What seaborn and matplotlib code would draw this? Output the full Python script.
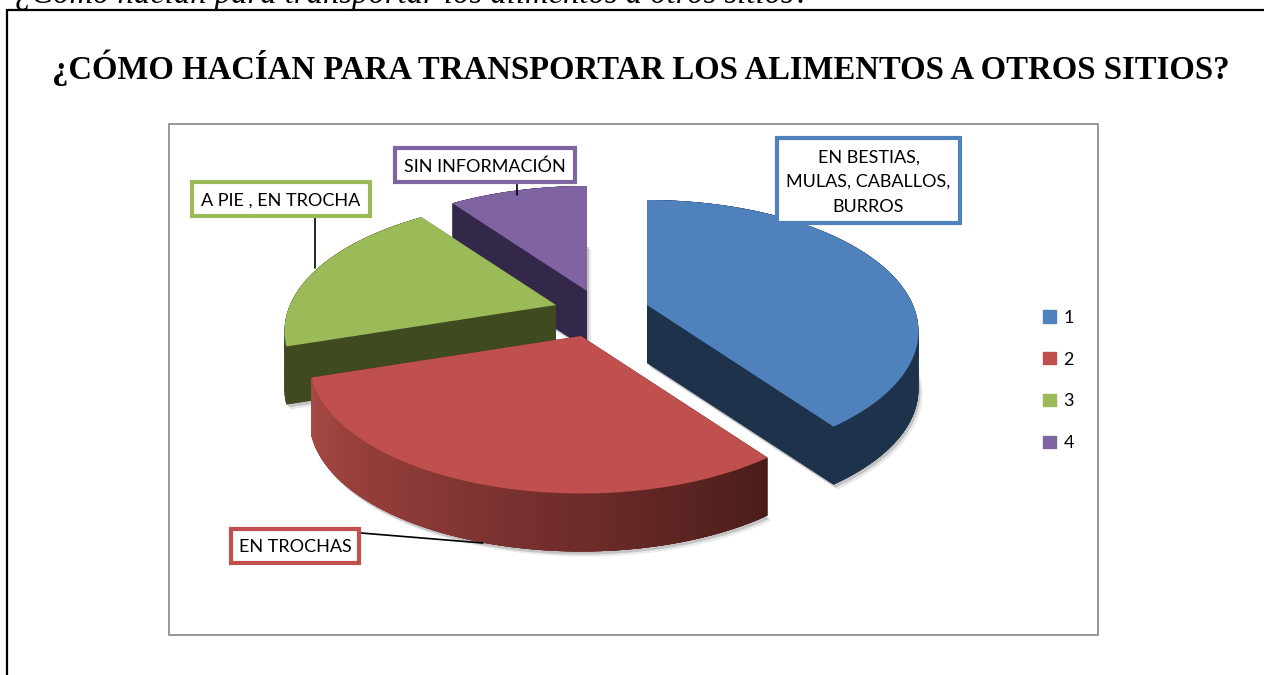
import matplotlib

matplotlib.use("Agg")

import matplotlib.pyplot as plt
import numpy as np
import seaborn as sns
from matplotlib.patches import Patch, Rectangle

TITLE = "¿CÓMO HACÍAN PARA TRANSPORTAR LOS ALIMENTOS A OTROS SITIOS?"
CAPTION = "¿Cómo hacían para transportar los alimentos a otros sitios?"

legend_labels = ["1", "2", "3", "4"]
shares = [40, 30, 20, 10]
slice_labels = ["EN BESTIAS,\nMULAS, CABALLOS,\nBURROS", "EN TROCHAS", "A PIE , EN TROCHA", "SIN INFORMACIÓN"]

top_colors = ["#4F81BD", "#C0504D", "#9BBB59", "#8064A2"]
wall_colors = ["#1E324C", "#4A1C19", "#3F4A21", "#33284A"]

# apex of each exploded slice, in pixels
apex = [(647, 305), (581, 336), (556, 305), (587, 291)]
label_boxes = [(775, 136, 962, 225), (229, 527, 361, 565), (190, 180, 372, 218), (393, 146, 577, 184)]
leaders = [None, ((361, 533), (483, 543)), ((315, 218), (315, 268)), ((517, 184), (517, 195))]

RX, RY, PERSP, DEPTH = 266, 126, 0.2, 58


def rim(theta, center):
    # tilted circle with a bit of perspective, theta clockwise from 12 o'clock
    x, y = np.sin(theta), np.cos(theta)
    s = 1 / (1 + PERSP * y)
    return center[0] + RX * x * s, center[1] - RY * y * s


def draw_slice(ax, start, end, center, top, wall, gradient=None):
    theta = np.linspace(start, end, 120)
    x, y = rim(theta, center)
    px = np.r_[center[0], x]
    py = np.r_[center[1], y]

    # soft shadow under the wall
    for off, alpha in ((5, 0.12), (3, 0.25)):
        ax.fill(px + off - 1, py + DEPTH + off, color="#555555", alpha=alpha, lw=0, zorder=2)

    ax.fill(px, py + DEPTH, color=wall, lw=0, zorder=3)
    # cut faces on both edges of the slice
    for k in (0, -1):
        ax.fill(
            [center[0], x[k], x[k], center[0]],
            [center[1], y[k], y[k] + DEPTH, center[1] + DEPTH],
            color=wall, lw=0, zorder=3,
        )
    # outer wall, in overlapping strips so the gradient has no seams
    colors = gradient if gradient is not None else [wall] * (len(theta) - 1)
    for i in range(len(theta) - 1):
        j = min(i + 3, len(theta) - 1)
        ax.fill(
            [x[i], x[j], x[j], x[i]],
            [y[i], y[j], y[j] + DEPTH, y[i] + DEPTH],
            color=colors[i], lw=0, zorder=3,
        )
    ax.fill(px, py, color=top, lw=0, zorder=3)


sns.set_theme(style="white")
plt.rcParams["font.family"] = ["Lato", "DejaVu Sans"]

fig = plt.figure(figsize=(12.64, 6.75), dpi=100)
ax = fig.add_axes([0, 0, 1, 1])
ax.set_xlim(0, 1264)
ax.set_ylim(675, 0)
ax.axis("off")

ax.text(15, 3, CAPTION, family="Liberation Serif", style="italic", fontsize=23.5, va="baseline", color="black")
ax.plot([7, 7, 1264], [675, 10, 10], color="black", lw=1.6, zorder=1, solid_joinstyle="miter")
ax.text(641, 68, TITLE, family="Liberation Serif", weight="bold", fontsize=23.55, ha="center", va="center", color="black")
ax.add_patch(Rectangle((168.5, 123.5), 929, 511, fill=False, ec="#868686", lw=1.2))

edges = np.radians(np.r_[0, np.cumsum(shares)] * 3.6)
red_wall = sns.blend_palette(["#4A1C19", "#6E2C2A", "#8F3B38", "#A94A46"], 119)
for i in [3, 2, 1, 0]:
    draw_slice(
        ax, edges[i], edges[i + 1], apex[i], top_colors[i], wall_colors[i],
        gradient=red_wall if i == 1 else None,
    )

for label, box, leader, color in zip(slice_labels, label_boxes, leaders, top_colors):
    x0, y0, x1, y1 = box
    if leader is not None:
        ax.plot(*zip(*leader), color="black", lw=1.2, zorder=4)
    ax.add_patch(Rectangle((x0 + 2, y0 + 2), x1 - x0 - 4, y1 - y0 - 4, fc="white", ec=color, lw=3, zorder=5))
    ax.text((x0 + x1) / 2, (y0 + y1) / 2 + 1.5, label, ha="center", va="center", fontsize=13, color="black",
            linespacing=1.68, zorder=6)

handles = [Patch(color=c) for c in top_colors]
ax.legend(
    handles, legend_labels, frameon=False, loc="center left", bbox_to_anchor=(1027, 380.5),
    bbox_transform=ax.transData, fontsize=13, handlelength=0.68, handleheight=0.68,
    handletextpad=0.45, labelspacing=1.43, labelcolor="black",
)

fig.savefig("out.png", dpi=100)
